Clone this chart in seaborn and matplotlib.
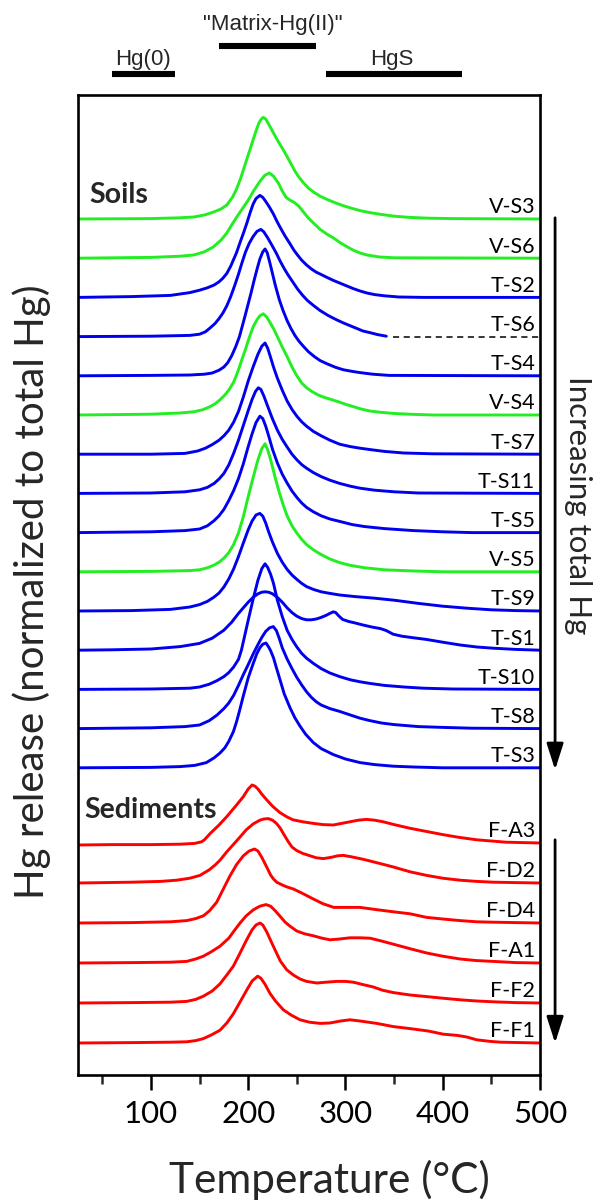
import numpy as np
import pandas as pd
import matplotlib
matplotlib.use("Agg")
import matplotlib.pyplot as plt
import seaborn as sns

# ---- thermal desorption curves: (temperature degC, normalized Hg release) ----
v_s3 = [(25, 0), (100, 0.01), (130, 0.03), (144, 0.05), (155, 0.1), (164, 0.17), (172, 0.25),
        (178, 0.35), (184, 0.55), (188, 0.75), (192, 1.0), (196, 1.3), (200, 1.6), (204, 1.9),
        (208, 2.2), (211, 2.4), (213.5, 2.5), (215.5, 2.54), (218, 2.5), (222, 2.33), (226, 2.15),
        (231, 1.93), (236, 1.73), (240, 1.56), (244, 1.38), (248, 1.2), (252, 1.05), (257, 0.9),
        (262, 0.77), (268, 0.66), (274, 0.57), (281, 0.49), (290, 0.4), (298, 0.33), (306, 0.27),
        (315, 0.21), (325, 0.16), (335, 0.12), (350, 0.07), (366, 0.04), (385, 0.02), (410, 0.01),
        (500, 0)]
v_s6 = [(25, 0), (100, 0.02), (130, 0.05), (144, 0.08), (155, 0.16), (164, 0.28), (172, 0.45),
        (178, 0.63), (183, 0.83), (188, 1.02), (193, 1.2), (200, 1.45), (206, 1.7), (212, 1.92),
        (217, 2.07), (221.7, 2.13), (226, 2.05), (231, 1.88), (235, 1.68), (239, 1.52), (243, 1.45),
        (247, 1.4), (252, 1.3), (257, 1.15), (262, 1.0), (267, 0.88), (274, 0.72), (281, 0.6),
        (288, 0.5), (295, 0.38), (302, 0.28), (308, 0.2), (315, 0.13), (322, 0.08), (335, 0.03),
        (350, 0.01), (500, 0)]
t_s2 = [(25, 0), (80, 0.02), (120, 0.05), (140, 0.12), (150, 0.18), (158, 0.24), (165, 0.31),
        (170, 0.39), (174, 0.48), (178, 0.6), (182, 0.78), (185, 0.95), (188, 1.12), (192, 1.4),
        (195, 1.6), (198.5, 1.85), (202, 2.12), (205, 2.33), (208, 2.47), (212, 2.55), (215, 2.5),
        (218, 2.4), (222, 2.25), (226, 2.08), (230, 1.88), (234, 1.7), (238, 1.53), (243, 1.34),
        (247, 1.18), (251, 1.05), (255, 0.93), (260, 0.81), (265, 0.71), (270, 0.63), (276, 0.56),
        (281, 0.5), (288, 0.42), (295, 0.35), (302, 0.28), (308, 0.22), (315, 0.16), (322, 0.11),
        (330, 0.07), (340, 0.04), (355, 0.01), (380, 0), (500, 0)]
t_s6 = [(25, 0), (100, 0.01), (140, 0.03), (150, 0.06), (156, 0.12), (161, 0.22), (166, 0.33),
        (170, 0.45), (174, 0.59), (178, 0.77), (182, 1.0), (186, 1.27), (190, 1.56), (193, 1.8),
        (197, 2.1), (201, 2.33), (205, 2.5), (209, 2.63), (213, 2.68), (216, 2.62), (220, 2.47),
        (224, 2.3), (229, 2.08), (233, 1.88), (237, 1.7), (241, 1.54), (246, 1.36), (251, 1.18),
        (256, 1.03), (261, 0.9), (267, 0.78), (274, 0.65), (282, 0.53), (290, 0.43), (298, 0.34),
        (305, 0.27), (312, 0.2), (318, 0.14), (325, 0.1), (333, 0.05), (342, 0.01)]
t_s4 = [(25, 0), (100, 0.01), (140, 0.02), (155, 0.04), (163, 0.07), (170, 0.14), (175, 0.22),
        (179, 0.33), (183, 0.5), (187, 0.72), (191, 0.98), (194, 1.25), (197, 1.52), (200, 1.8),
        (203, 2.08), (206, 2.38), (209, 2.66), (212, 2.92), (215, 3.1), (217.3, 3.17), (219.5, 3.08),
        (222, 2.85), (225, 2.55), (228, 2.25), (232, 1.9), (236, 1.62), (240, 1.38), (244, 1.18),
        (248, 1.01), (252, 0.87), (257, 0.73), (262, 0.6), (268, 0.48), (274, 0.38), (281, 0.3),
        (290, 0.21), (298, 0.15), (307, 0.11), (315, 0.08), (328, 0.04), (345, 0.01), (500, 0)]
v_s4 = [(25, 0), (100, 0.02), (130, 0.05), (144, 0.08), (153, 0.13), (160, 0.2), (166, 0.28),
        (171, 0.38), (176, 0.5), (180, 0.62), (185, 0.82), (188, 1.0), (191, 1.2), (194, 1.42),
        (197, 1.63), (201, 1.93), (205, 2.2), (209, 2.38), (212, 2.48), (215.5, 2.53), (219, 2.45),
        (222, 2.33), (226, 2.16), (230, 1.96), (235, 1.7), (240, 1.46), (245, 1.2), (250, 0.98),
        (255, 0.8), (260, 0.68), (266, 0.58), (272, 0.5), (277, 0.45), (285, 0.39), (294, 0.32),
        (301, 0.26), (308, 0.21), (316, 0.15), (325, 0.1), (335, 0.07), (349, 0.04), (365, 0.02),
        (390, 0), (500, 0)]
t_s7 = [(25, 0), (100, 0), (135, 0.02), (148, 0.08), (156, 0.15), (163, 0.24), (170, 0.35),
        (175, 0.46), (180, 0.6), (185, 0.8), (190, 1.07), (195, 1.43), (200, 1.83), (205, 2.18),
        (210, 2.5), (214, 2.7), (217.3, 2.78), (220, 2.65), (223, 2.42), (226, 2.18), (230, 1.9),
        (235, 1.6), (240, 1.33), (245, 1.12), (250, 0.95), (255, 0.81), (260, 0.7), (267, 0.57),
        (275, 0.46), (284, 0.35), (294, 0.25), (305, 0.19), (315, 0.15), (327, 0.11), (340, 0.07),
        (360, 0.03), (390, 0.01), (500, 0)]
t_s11 = [(25, 0), (100, 0.01), (135, 0.04), (150, 0.09), (158, 0.15), (165, 0.25), (170, 0.36),
         (175, 0.5), (180, 0.71), (185, 1.0), (190, 1.33), (195, 1.7), (200, 2.07), (204, 2.35),
         (207.5, 2.55), (210.4, 2.64), (213, 2.6), (216, 2.44), (220, 2.18), (225, 1.86), (230, 1.58),
         (235, 1.35), (240, 1.16), (245, 0.98), (250, 0.84), (255, 0.72), (260, 0.63), (267, 0.52),
         (275, 0.42), (284, 0.33), (294, 0.25), (305, 0.18), (315, 0.13), (330, 0.08), (350, 0.04),
         (375, 0.01), (500, 0)]
t_s5 = [(25, 0), (100, 0.02), (135, 0.05), (150, 0.09), (158, 0.17), (165, 0.3), (170, 0.42),
        (175, 0.58), (180, 0.8), (185, 1.05), (190, 1.35), (195, 1.72), (200, 2.15), (204, 2.47),
        (208, 2.75), (212, 2.91), (215, 2.85), (218, 2.66), (221, 2.42), (225, 2.08), (230, 1.74),
        (235, 1.46), (240, 1.24), (245, 1.04), (250, 0.88), (255, 0.74), (260, 0.63), (267, 0.52),
        (275, 0.42), (284, 0.34), (294, 0.28), (307, 0.2), (320, 0.15), (340, 0.1), (370, 0.05),
        (400, 0.02), (430, 0), (500, 0)]
v_s5 = [(25, 0), (100, 0.01), (140, 0.03), (150, 0.05), (158, 0.1), (165, 0.17), (170, 0.24),
        (175, 0.34), (180, 0.48), (185, 0.68), (190, 0.97), (195, 1.38), (200, 1.88), (205, 2.35),
        (210, 2.8), (214, 3.08), (217.3, 3.2), (220, 3.05), (222.5, 2.85), (225, 2.62), (228, 2.33),
        (232, 1.98), (236, 1.67), (240, 1.4), (245, 1.15), (250, 0.97), (255, 0.81), (260, 0.68),
        (267, 0.55), (275, 0.43), (284, 0.32), (294, 0.23), (305, 0.16), (320, 0.1), (340, 0.05),
        (370, 0.02), (400, 0), (500, 0)]
t_s9 = [(25, 0), (80, 0.01), (120, 0.04), (140, 0.1), (150, 0.16), (158, 0.24), (165, 0.35),
        (170, 0.45), (175, 0.6), (180, 0.8), (185, 1.05), (190, 1.36), (195, 1.7), (200, 2.03),
        (204, 2.25), (208, 2.4), (212, 2.44), (215, 2.37), (218, 2.2), (221, 1.98), (225, 1.72),
        (230, 1.44), (235, 1.22), (240, 1.04), (245, 0.9), (250, 0.79), (255, 0.69), (260, 0.61),
        (267, 0.54), (275, 0.48), (284, 0.44), (294, 0.4), (310, 0.36), (330, 0.32), (350, 0.27),
        (375, 0.19), (400, 0.12), (425, 0.07), (450, 0.03), (475, 0.01), (500, 0)]
t_s1 = [(25, 0), (60, 0.01), (100, 0.03), (130, 0.09), (150, 0.17), (163, 0.3), (175, 0.5),
        (183, 0.7), (190, 0.92), (195, 1.06), (200, 1.2), (205, 1.32), (210, 1.41), (214, 1.45),
        (217.3, 1.46), (221, 1.45), (225, 1.41), (230, 1.32), (235, 1.2), (240, 1.06), (245, 0.94),
        (250, 0.85), (255, 0.79), (260, 0.76), (265, 0.76), (270, 0.78), (275, 0.82), (280, 0.87),
        (284, 0.92), (287.5, 0.96), (290, 0.94), (293, 0.86), (297, 0.77), (303, 0.72), (310, 0.68),
        (318, 0.63), (327, 0.58), (336, 0.54), (342, 0.49), (349, 0.4), (358, 0.35), (370, 0.31),
        (383, 0.27), (400, 0.2), (418, 0.13), (435, 0.08), (452, 0.05), (475, 0.02), (500, 0)]
t_s10 = [(25, 0), (100, 0.01), (140, 0.03), (150, 0.06), (160, 0.13), (168, 0.22), (175, 0.32),
         (180, 0.42), (185, 0.56), (190, 0.75), (193, 0.98), (196, 1.3), (200, 1.73), (205, 2.25),
         (210, 2.73), (214, 3.02), (217.3, 3.14), (220, 3.05), (223, 2.88), (226, 2.65), (230, 2.23),
         (235, 1.82), (240, 1.48), (245, 1.25), (250, 1.06), (255, 0.9), (260, 0.78), (267, 0.65),
         (275, 0.52), (284, 0.41), (294, 0.32), (305, 0.24), (315, 0.19), (325, 0.15), (340, 0.1),
         (360, 0.06), (380, 0.03), (410, 0.01), (500, 0)]
t_s8 = [(25, 0), (100, 0.02), (135, 0.05), (150, 0.09), (160, 0.2), (168, 0.34), (175, 0.5),
        (180, 0.64), (185, 0.83), (190, 1.08), (195, 1.35), (200, 1.6), (205, 1.86), (210, 2.1),
        (214, 2.28), (218, 2.43), (222, 2.52), (225.8, 2.55), (229, 2.45), (232, 2.25), (235, 2.02),
        (240, 1.74), (245, 1.5), (250, 1.28), (255, 1.09), (260, 0.92), (265, 0.78), (270, 0.67),
        (275, 0.59), (284, 0.5), (294, 0.43), (305, 0.34), (315, 0.26), (325, 0.2), (337, 0.14),
        (350, 0.1), (375, 0.05), (400, 0.03), (430, 0.01), (500, 0)]
t_s3 = [(25, 0), (100, 0.01), (130, 0.03), (145, 0.06), (157, 0.13), (165, 0.25), (171, 0.37),
        (176, 0.5), (180, 0.66), (184.7, 0.9), (188, 1.15), (191, 1.42), (195, 1.8), (200, 2.25),
        (205.3, 2.62), (209, 2.86), (212, 3.0), (215, 3.09), (218.3, 3.12), (221, 3.02), (223, 2.93),
        (226, 2.75), (229, 2.5), (232.7, 2.2), (237, 1.85), (243, 1.5), (248, 1.25), (253.3, 1.04),
        (259, 0.84), (267, 0.63), (275, 0.48), (287.6, 0.33), (300, 0.22), (315, 0.13), (330, 0.08),
        (349, 0.04), (370, 0.02), (400, 0), (500, 0)]

f_a3 = [(25, -0.05), (60, -0.04), (100, -0.04), (130, -0.03), (145, -0.01), (152, 0.03), (155, 0.08),
        (161, 0.24), (170, 0.45), (178, 0.66), (187, 0.92), (195, 1.16), (200, 1.35), (204, 1.45),
        (207, 1.42), (210, 1.35), (214, 1.22), (219, 1.08), (225, 0.92), (232.6, 0.76), (240, 0.65),
        (246, 0.58), (256, 0.53), (267, 0.49), (277, 0.46), (287.5, 0.45), (296, 0.49), (304.6, 0.53),
        (313, 0.57), (321.7, 0.59), (330, 0.57), (338.8, 0.53), (350, 0.46), (366, 0.37), (383, 0.29),
        (400, 0.21), (417, 0.14), (435, 0.08), (450, 0.05), (465, 0.02), (500, 0)]
f_d2 = [(25, 0), (80, 0.02), (110, 0.04), (126.5, 0.07), (140, 0.12), (150.4, 0.19), (160, 0.33),
        (166, 0.45), (171, 0.57), (178, 0.78), (185, 0.97), (191.6, 1.15), (198, 1.33), (205.3, 1.48),
        (212, 1.57), (216, 1.6), (220.7, 1.61), (225, 1.57), (229, 1.49), (232.7, 1.38), (237, 1.2),
        (241, 1.04), (245, 0.9), (249.9, 0.81), (256, 0.74), (263.6, 0.68), (270, 0.63), (277.3, 0.61),
        (285, 0.64), (292, 0.68), (297.8, 0.69), (305, 0.66), (315, 0.61), (322, 0.57), (335, 0.49),
        (349.3, 0.4), (366.4, 0.28), (383.5, 0.19), (400, 0.12), (417.8, 0.07), (435, 0.04),
        (452, 0.02), (475, 0.01), (500, 0)]
f_d4 = [(25, 0), (80, 0.01), (120, 0.03), (136.7, 0.06), (146, 0.11), (153.9, 0.18), (160, 0.3),
        (167.6, 0.52), (174, 0.83), (181.3, 1.18), (188, 1.46), (195, 1.68), (201, 1.8), (206.5, 1.85),
        (210, 1.8), (214, 1.64), (219, 1.4), (223, 1.2), (226, 1.1), (229.3, 1.02), (235, 0.95),
        (240, 0.9), (246.4, 0.85), (255, 0.75), (267, 0.6), (277, 0.48), (288, 0.39), (300, 0.39),
        (315, 0.39), (330, 0.34), (349.3, 0.28), (366.4, 0.23), (383.5, 0.14), (400, 0.1),
        (417.8, 0.06), (435, 0.03), (452, 0.02), (500, 0)]
f_a1 = [(25, 0), (80, 0.01), (120, 0.02), (136.7, 0.04), (146, 0.1), (153.9, 0.17), (162, 0.28),
        (171, 0.42), (180, 0.62), (186, 0.82), (191.6, 1.0), (198, 1.18), (205.3, 1.33), (212, 1.42),
        (218.3, 1.46), (223, 1.42), (228, 1.3), (232.7, 1.17), (238, 1.02), (243, 0.92), (249.9, 0.8),
        (258, 0.73), (267, 0.68), (276, 0.62), (284.1, 0.58), (294, 0.6), (304.7, 0.63), (315, 0.63),
        (325.3, 0.62), (337, 0.55), (349.3, 0.47), (366, 0.36), (383.5, 0.25), (400, 0.17),
        (417.8, 0.1), (435, 0.06), (452, 0.04), (475, 0.01), (500, 0)]
f_f2 = [(25, 0), (80, 0.01), (120, 0.02), (136.7, 0.04), (146, 0.09), (153.9, 0.17), (163, 0.3),
        (171, 0.48), (178, 0.7), (184.7, 0.92), (191, 1.22), (198.4, 1.58), (204, 1.83), (208, 1.95),
        (212.1, 2.0), (215, 1.95), (219, 1.78), (222, 1.62), (225.8, 1.42), (229.3, 1.24), (233, 1.05),
        (239.6, 0.83), (246.4, 0.7), (253.3, 0.6), (260, 0.54), (270.4, 0.5), (280, 0.52), (291, 0.54),
        (300, 0.54), (308.1, 0.52), (318, 0.46), (328.7, 0.4), (338, 0.32), (349.3, 0.26),
        (366.4, 0.2), (383.5, 0.16), (400, 0.12), (417.8, 0.08), (435, 0.05), (452, 0.03),
        (475, 0.01), (500, 0)]
f_f1 = [(25, 0), (80, 0.01), (120, 0.02), (136.7, 0.03), (146, 0.06), (153.9, 0.11), (162, 0.2),
        (171, 0.32), (178, 0.5), (184.7, 0.73), (191, 1.0), (198.4, 1.32), (204, 1.55), (209.7, 1.67),
        (213, 1.62), (217, 1.48), (222.4, 1.24), (228, 1.05), (236.1, 0.83), (244, 0.7), (253.3, 0.58),
        (263, 0.52), (273.8, 0.49), (284, 0.5), (295, 0.55), (304.7, 0.58), (315, 0.55), (332.1, 0.49),
        (349.3, 0.41), (366.4, 0.36), (385, 0.3), (400.7, 0.22), (415, 0.19), (424.7, 0.15),
        (435, 0.08), (448.6, 0.04), (460, 0.02), (500, 0)]

soil_labels = ["V-S3", "V-S6", "T-S2", "T-S6", "T-S4", "V-S4", "T-S7", "T-S11",
               "T-S5", "V-S5", "T-S9", "T-S1", "T-S10", "T-S8", "T-S3"]
soil_curves = [v_s3, v_s6, t_s2, t_s6, t_s4, v_s4, t_s7, t_s11,
               t_s5, v_s5, t_s9, t_s1, t_s10, t_s8, t_s3]
sed_labels = ["F-A3", "F-D2", "F-D4", "F-A1", "F-F2", "F-F1"]
sed_curves = [f_a3, f_d2, f_d4, f_a1, f_f2, f_f1]

# temperature windows of the Hg species
species_names = ["Hg(0)", '"Matrix-Hg(II)"', "HgS"]
species_ranges = [(60, 125), (170, 270), (280, 420)]

# ---- styling ----
GREEN, BLUE, RED = "#22EE22", "#0000EE", "#FF0000"
SOIL_STEP, SOIL_BASE = 0.98, 7.68
SED_STEP, SED_BASE = 1.0, 0.8

sns.set_theme(style="white")
plt.rcParams["font.family"] = ["Lato", "DejaVu Sans"]

# stack curves into one long table with vertical offsets
rows = []
colors = {}
label_pos = []
n_soil = len(soil_labels)
for i, (name, curve) in enumerate(zip(soil_labels, soil_curves)):
    off = SOIL_BASE + (n_soil - 1 - i) * SOIL_STEP
    colors[name] = GREEN if name.startswith("V") else BLUE
    label_pos.append((name, off))
    for t, h in curve:
        rows.append((name, t, h + off))
n_sed = len(sed_labels)
for i, (name, curve) in enumerate(zip(sed_labels, sed_curves)):
    off = SED_BASE + (n_sed - 1 - i) * SED_STEP
    colors[name] = RED
    label_pos.append((name, off))
    for t, h in curve:
        rows.append((name, t, h + off))
df = pd.DataFrame(rows, columns=["sample", "T", "y"])

fig = plt.figure(figsize=(6, 12), dpi=100)
ax = fig.add_axes([78 / 600, 1 - 1075 / 1200, 462 / 600, 980 / 1200])

sns.lineplot(data=df, x="T", y="y", hue="sample", palette=colors, estimator=None,
             sort=False, legend=False, linewidth=2.1, ax=ax)
for line in ax.get_lines():
    line.set_solid_joinstyle("round")
    line.set_solid_capstyle("round")

# T-S6 record ends early: dashed continuation of its baseline
ts6_off = dict(label_pos)["T-S6"]
ax.plot([t_s6[-1][0] + 7, 500], [ts6_off, ts6_off], color="black", lw=1.1,
        linestyle=(0, (4, 3)))

# sample names
for name, off in label_pos:
    ax.text(495, off + 0.14, name, ha="right", va="baseline", fontsize=15.5, color="black")

ax.text(37, 21.8, "Soils", fontsize=20.5, fontweight="bold", va="baseline", ha="left")
ax.text(32, 6.43, "Sediments", fontsize=20.5, fontweight="bold", va="baseline", ha="left")

# axes
ax.set_xlim(25, 500)
ax.set_ylim(0, 24.5)
ax.set_xlabel("")
ax.set_ylabel("")
ax.set_yticks([])
ax.set_xticks([100, 200, 300, 400, 500])
ax.set_xticks([50, 150, 250, 350, 450], minor=True)
ax.tick_params(axis="x", which="major", direction="out", length=11, width=1.8,
               labelsize=22.5, pad=7, bottom=True, colors="black")
ax.tick_params(axis="x", which="minor", direction="out", length=6.5, width=1.8, bottom=True)
for s in ax.spines.values():
    s.set_visible(True)
    s.set_color("black")
    s.set_linewidth(1.9)

# species bars above the plot
bar_levels = [25.03, 25.73, 25.03]
text_levels = [25.25, 26.13, 25.25]
text_x = [92, 225.5, 348]
for name, (a, b), yb, yt, xt in zip(species_names, species_ranges, bar_levels, text_levels, text_x):
    ax.plot([a, b], [yb, yb], color="black", lw=4.4, solid_capstyle="butt", clip_on=False)
    ax.text(xt, yt, name, ha="center", va="baseline", fontsize=16,
            family=["Liberation Sans", "DejaVu Sans"], clip_on=False)

# arrows: increasing total Hg within each group
arrow_kw = dict(arrowstyle="-|>,head_length=1.0,head_width=0.32", lw=2.0, color="black",
                mutation_scale=16, shrinkA=0, shrinkB=0)
ax.annotate("", xy=(515.5, 7.63), xytext=(515.5, 21.43), arrowprops=arrow_kw,
            annotation_clip=False)
ax.annotate("", xy=(515.5, 0.8), xytext=(515.5, 5.88), arrowprops=arrow_kw,
            annotation_clip=False)
fig.text(578 / 600, 1 - 505 / 1200, "Increasing total Hg", rotation=-90, ha="center",
         va="center", fontsize=22.5)

fig.text(0.053, 1 - 592 / 1200, "Hg release (normalized to total Hg)", rotation=90,
         ha="center", va="center", fontsize=29)
fig.text(329 / 600, 1 - 1193 / 1200, "Temperature (\u00b0C)", ha="center", va="baseline",
         fontsize=30.5)

fig.savefig("out.png", dpi=100)
